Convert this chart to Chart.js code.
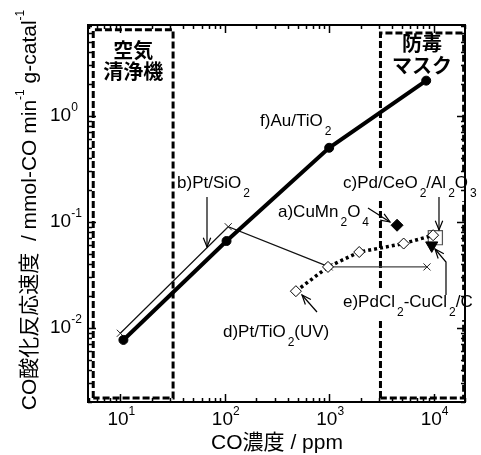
<!DOCTYPE html>
<html><head><meta charset="utf-8">
<script src="https://cdn.jsdelivr.net/npm/chart.js@4.4.1/dist/chart.umd.min.js"></script>
<style>html,body{margin:0;padding:0;background:#fff;}</style>
</head><body>
<canvas id="c" width="481" height="455"></canvas>
<script>
// ---------- data ----------
const auX   = [10.7, 104, 1000, 8500];          // f) Au/TiO2
const auY   = [0.0077, 0.066, 0.50, 2.15];
const ptSiX = [10, 108, 1000, 8650];            // b) Pt/SiO2
const ptSiY = [0.0089, 0.090, 0.0376, 0.0376];
const ptTiX = [480, 975, 1940, 5170, 9900];     // d) Pt/TiO2(UV)
const ptTiY = [0.0222, 0.0376, 0.052, 0.0625, 0.0749];
const cuMnX = [4470];  const cuMnY = [0.093];   // a) CuMn2O4
const pdCeX = [10400]; const pdCeY = [0.071];   // c) Pd/CeO2/Al2O3
const pdClX = [9600];  const pdClY = [0.060];   // e) PdCl2-CuCl2/C
const purifierX = [5.5, 32];   const purifierY = [0.00218, 6.5];   // 空気清浄機 range
const maskX     = [3100, 19400]; const maskY   = [0.00218, 6.05];  // 防毒マスク range
const xTickVals = [10, 100, 1000, 10000]; const xTickExp = ['1','2','3','4'];
const yTickVals = [0.01, 0.1, 1];         const yTickExp = ['-2','-1','0'];
const xTitle = 'CO濃度 / ppm';
const yTitle = 'CO酸化反応速度  / mmol-CO min^{-1} g-catal^{-1}';

// annotation anchors in data coordinates
const labels = [
  {text:'f)Au/TiO_{2}', x:217.6, y:0.895},
  {text:'b)Pt/SiO_{2}', x:34.9, y:0.2328},
  {text:'c)Pd/CeO_{2}/Al_{2}O_{3}', x:1357, y:0.2328, bg:true},
  {text:'a)CuMn_{2}O_{4}', x:323.6, y:0.124},
  {text:'e)PdCl_{2}-CuCl_{2}/C', x:1357, y:0.01755, bg:true},
  {text:'d)Pt/TiO_{2}(UV)', x:96.2, y:0.00915}
];
const arrows = [
  [[67.6,0.1717],[67.6,0.058]],
  [[11270,0.1717],[11270,0.0839]],
  [[2354,0.1352],[3823,0.0998]],
  [[13152,0.02043],[13152,0.04183],[10318,0.05549]],
  [[764.6,0.01413],[549.3,0.02043]]
];
const regionLabels = [
  {lines:['空気','清浄機'], xr:purifierX, ys:[4.18, 2.60]},
  {lines:['防毒','マスク'], xr:maskX, ys:[4.87, 3.02]}
];

// ---------- helpers ----------
const zip = (xs, ys) => xs.map((v,i)=>({x:v, y:ys[i]}));
const box = (xr, yr) => [
  {x:xr[0],y:yr[0]},{x:xr[0],y:yr[1]},{x:xr[1],y:yr[1]},{x:xr[1],y:yr[0]},{x:xr[0],y:yr[0]}];
const FAM = '"Liberation Sans", Arial, "Noto Sans CJK JP", sans-serif';

function parseRich(s){
  const out=[]; const re=/([_^])\{([^}]*)\}/g; let last=0, m;
  while((m=re.exec(s))){
    if(m.index>last) out.push({t:s.slice(last,m.index),mode:0});
    out.push({t:m[2],mode:m[1]==='_'?1:2}); last=re.lastIndex;
  }
  if(last<s.length) out.push({t:s.slice(last),mode:0});
  return out;
}
function richWidth(ctx, s, o){
  let w=0;
  for(const g of parseRich(s)){
    ctx.font = (g.mode? o.small : o.size)+'px '+FAM;
    w += ctx.measureText(g.t).width + (g.mode===1 ? o.gap : 0);
  }
  return w;
}
function drawRich(ctx, s, x, y, o){
  ctx.textBaseline='middle'; ctx.textAlign='left'; ctx.fillStyle='#000';
  let cx = x;
  for(const g of parseRich(s)){
    ctx.font = (g.mode? o.small : o.size)+'px '+FAM;
    if(g.mode===1){ cx += o.gap; ctx.fillText(g.t, cx, y + o.subDy); }
    else if(g.mode===2){ ctx.fillText(g.t, cx, y + o.supDy); }
    else ctx.fillText(g.t, cx, y);
    cx += ctx.measureText(g.t).width;
  }
}
function arrowHead(ctx, x0, y0, x1, y1, len, ang){
  const a = Math.atan2(y1-y0, x1-x0);
  ctx.beginPath();
  ctx.moveTo(x1 - len*Math.cos(a-ang), y1 - len*Math.sin(a-ang));
  ctx.lineTo(x1, y1);
  ctx.lineTo(x1 - len*Math.cos(a+ang), y1 - len*Math.sin(a+ang));
  ctx.stroke();
}

const decor = {
  id:'decor',
  afterDatasetsDraw(chart){
    const {ctx, chartArea:a, scales:{x, y}} = chart;
    ctx.save();
    ctx.strokeStyle='#000'; ctx.lineCap='butt';

    // series labels (white backing where they sit on the region boxes)
    const lt = {size:17, small:12, gap:2, subDy:11, supDy:-8};
    labels.forEach(l=>{
      const px = x.getPixelForValue(l.x), py = y.getPixelForValue(l.y);
      if(l.bg){
        const w = richWidth(ctx, l.text, lt);
        ctx.fillStyle='#fff'; ctx.fillRect(px-2, py-12, w+4, 30);
      }
      drawRich(ctx, l.text, px, py, lt);
    });

    // inward ticks on all four sides
    ctx.lineWidth=1.5;
    for(let k=0;k<=4;k++) for(let m=1;m<=9;m++){
      const v=m*Math.pow(10,k);
      if(v<x.min||v>x.max) continue;
      const px=Math.round(x.getPixelForValue(v))+0.5, L=m===1?8:4;
      ctx.beginPath(); ctx.moveTo(px,a.bottom); ctx.lineTo(px,a.bottom-L);
      ctx.moveTo(px,a.top); ctx.lineTo(px,a.top+L); ctx.stroke();
    }
    for(let k=-3;k<=0;k++) for(let m=1;m<=9;m++){
      const v=m*Math.pow(10,k);
      if(v<y.min||v>y.max) continue;
      const py=Math.round(y.getPixelForValue(v))+0.5, L=m===1?8:4;
      ctx.beginPath(); ctx.moveTo(a.left,py); ctx.lineTo(a.left+L,py);
      ctx.moveTo(a.right,py); ctx.lineTo(a.right-L,py); ctx.stroke();
    }
    ctx.lineWidth=2;
    ctx.strokeRect(a.left, a.top, a.right-a.left, a.bottom-a.top);

    // tick labels
    const tk = {size:19, small:12, gap:0, subDy:8, supDy:-8};
    xTickVals.forEach((v,i)=>{
      const s='10^{'+xTickExp[i]+'}';
      const w=richWidth(ctx,s,tk);
      drawRich(ctx, s, x.getPixelForValue(v)-w/2+1, 420, tk);
    });
    yTickVals.forEach((v,i)=>{
      drawRich(ctx, '10^{'+yTickExp[i]+'}', 50, y.getPixelForValue(v), tk);
    });

    // axis titles
    const xt = {size:21, small:12, gap:0, subDy:8, supDy:-8};
    const xw = richWidth(ctx, xTitle, xt);
    drawRich(ctx, xTitle, 277 - xw/2, 443, xt);
    const yt = {size:21, small:12, gap:0, subDy:8, supDy:-9};
    const yw = richWidth(ctx, yTitle, yt);
    ctx.save(); ctx.translate(30, 210); ctx.rotate(-Math.PI/2);
    drawRich(ctx, yTitle, -yw/2, 0, yt); ctx.restore();

    // arrows
    ctx.lineWidth=1.2; ctx.strokeStyle='#000';
    arrows.forEach(pts=>{
      const p = pts.map(q=>[x.getPixelForValue(q[0]), y.getPixelForValue(q[1])]);
      ctx.beginPath(); ctx.moveTo(p[0][0],p[0][1]);
      for(let i=1;i<p.length;i++) ctx.lineTo(p[i][0],p[i][1]);
      ctx.stroke();
      const n=p.length;
      arrowHead(ctx, p[n-2][0], p[n-2][1], p[n-1][0], p[n-1][1], 10, 0.38);
    });

    // region labels
    ctx.font = 'bold 20px "Noto Sans CJK JP", sans-serif';
    ctx.textAlign='center'; ctx.textBaseline='middle'; ctx.fillStyle='#000';
    regionLabels.forEach(r=>{
      const cx = x.getPixelForValue(Math.sqrt(r.xr[0]*r.xr[1]));
      r.lines.forEach((t,i)=> ctx.fillText(t, cx, y.getPixelForValue(r.ys[i])));
    });
    ctx.restore();
  }
};

const boxStyle = {showLine:true, borderColor:'#000', borderWidth:3, borderDash:[7,3], pointRadius:0, fill:false, order:10};

new Chart(document.getElementById('c'), {
  type:'scatter',
  data:{ datasets:[
    Object.assign({data:box(purifierX, purifierY)}, boxStyle),
    Object.assign({data:box(maskX, maskY)}, boxStyle),
    {data:zip(ptSiX, ptSiY), showLine:true, borderColor:'#111', borderWidth:1.2,
     segment:{borderColor: c => c.p0DataIndex===2 ? '#444' : '#111'},
     pointStyle:'crossRot', pointRadius:5, pointBorderColor:'#222', pointBorderWidth:1, order:6},
    {data:zip(auX, auY), showLine:true, borderColor:'#000', borderWidth:4,
     pointStyle:'circle', pointRadius:4.5, pointBackgroundColor:'#000', pointBorderColor:'#000', pointBorderWidth:1, order:5},
    {data:zip(pdCeX, pdCeY), showLine:false, pointStyle:'rect', pointRadius:10,
     pointBackgroundColor:'#fff', pointBorderColor:'#555', pointBorderWidth:1.2, order:4},
    {data:zip(pdClX, pdClY), showLine:false, pointStyle:'triangle', pointRotation:180, pointRadius:7,
     pointBackgroundColor:'#000', pointBorderColor:'#000', order:3},
    {data:zip(ptTiX, ptTiY), showLine:true, borderColor:'#000', borderWidth:3.5, borderDash:[3,3],
     pointStyle:'rectRot', pointRadius:5.5, pointBackgroundColor:'#fff', pointBorderColor:'#000', pointBorderWidth:1, order:2},
    {data:zip(cuMnX, cuMnY), showLine:false, pointStyle:'rectRot', pointRadius:6,
     pointBackgroundColor:'#000', pointBorderColor:'#000', order:1}
  ]},
  options:{
    responsive:false, animation:false, events:[],
    layout:{padding:{left:88, top:25, right:16, bottom:53}},
    plugins:{legend:{display:false}, tooltip:{enabled:false}},
    scales:{
      x:{type:'logarithmic', min:4.9, max:20000, display:false},
      y:{type:'logarithmic', min:0.002, max:7.2, display:false}
    }
  },
  plugins:[decor]
});
</script>
</body></html>
